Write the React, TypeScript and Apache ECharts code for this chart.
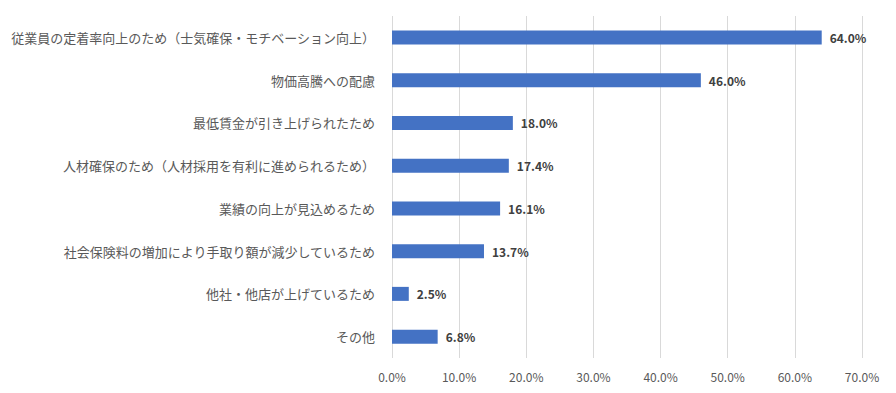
import React, { useEffect, useRef } from "react";
import * as echarts from "echarts";

const categories = [
  "従業員の定着率向上のため（士気確保・モチベーション向上）",
  "物価高騰への配慮",
  "最低賃金が引き上げられたため",
  "人材確保のため（人材採用を有利に進められるため）",
  "業績の向上が見込めるため",
  "社会保険料の増加により手取り額が減少しているため",
  "他社・他店が上げているため",
  "その他",
];
const values = [64.0, 46.0, 18.0, 17.4, 16.1, 13.7, 2.5, 6.8];

export default function App() {
  const ref = useRef<HTMLDivElement>(null);
  useEffect(() => {
    if (!ref.current) return;
    const chart = echarts.init(ref.current, undefined, { renderer: "svg" });
    const font = "'Noto Sans CJK JP', 'Noto Sans', sans-serif";
    chart.setOption({
      animation: false,
      grid: { left: 392, right: 34, top: 16, bottom: 35, containLabel: false },
      xAxis: {
        type: "value",
        min: 0,
        max: 70,
        interval: 10,
        axisLine: { show: false },
        axisTick: { show: false },
        splitLine: { show: true, lineStyle: { color: "#d9d9d9", width: 1 } },
        axisLabel: {
          formatter: (v: number) => v.toFixed(1) + "%",
          color: "#595959",
          fontSize: 12,
          fontFamily: font,
          margin: 12,
        },
      },
      yAxis: {
        type: "category",
        data: categories,
        inverse: true,
        axisLine: { show: false },
        axisTick: { show: false },
        axisLabel: {
          color: "#595959",
          fontSize: 13,
          fontFamily: font,
          margin: 17,
        },
      },
      series: [
        {
          type: "bar",
          data: values,
          barWidth: 14,
          itemStyle: { color: "#4472C4" },
          label: {
            show: true,
            position: "right",
            distance: 8,
            formatter: (p: any) => p.value.toFixed(1) + "%",
            color: "#404040",
            fontSize: 12,
            fontWeight: "bold",
            fontFamily: font,
          },
        },
      ],
    });
    return () => chart.dispose();
  }, []);
  return (
    <div
      ref={ref}
      style={{ position: "fixed", left: 0, top: 0, width: 896, height: 393, background: "#fff" }}
    />
  );
}
